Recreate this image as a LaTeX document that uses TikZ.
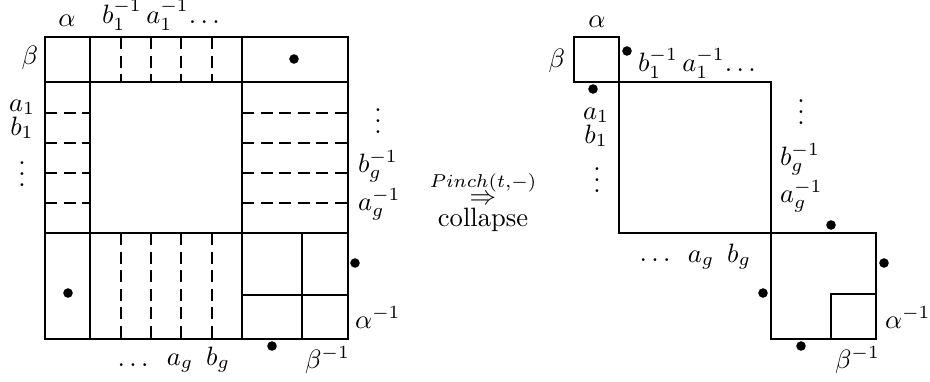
\documentclass[tikz,border=0pt]{standalone}
\usepackage{amsmath}
\newcommand\myvdots{\vbox{\baselineskip4pt\lineskiplimit0pt\hbox{.}\hbox{.}\hbox{.}}}
\begin{document}
\begin{tikzpicture}[x=0.3766pt,y=-0.3766pt,
  edge/.style={line width=0.8pt},
  dsh/.style={line width=0.8pt, dash pattern=on 4.5pt off 2.5pt},
  lbl/.style={inner sep=0pt, outer sep=0pt},
  pt/.style={circle, fill=black, inner sep=0pt, minimum size=3.6pt}]
\useasboundingbox (0,0) rectangle (930,381);

% ---------- left figure ----------
\draw[edge] (45,37) rectangle (348,339);
\draw[edge] (90,37) -- (90,339);
\draw[edge] (242,37) -- (242,339);
\draw[edge] (45,82) -- (348,82);
\draw[edge] (45,233) -- (348,233);
\draw[edge] (302,233) -- (302,339);
\draw[edge] (242,295) -- (348,295);
\foreach \x in {121,151,181,212} {
  \draw[dsh] (\x,37) -- (\x,82);
  \draw[dsh] (\x,233) -- (\x,339);
}
\foreach \y in {113,143,173,203} {
  \draw[dsh] (45,\y) -- (90,\y);
  \draw[dsh] (242,\y) -- (348,\y);
}
\node[pt] (ld1) at (294,59) {};
\node[pt] (ld2) at (68,293) {};
\node[pt] (ld3) at (355,263) {};
\node[pt] (ld4) at (272,346) {};

\node[lbl, anchor=base] (lal) at (67,26.5) {$\alpha$};
\node[lbl, anchor=base west] (ltop) at (102,23.3) {$b_1^{-1}\,a_1^{-1}\!\ldots$};
\node[lbl, anchor=base east] (lbe) at (38,64) {$\beta$};
\node[lbl, anchor=base] (la1) at (22,111) {$a_1$};
\node[lbl, anchor=base] (lb1) at (22,135) {$b_1$};
\node[lbl] (lvd) at (22,174) {\myvdots};
\node[lbl] (rvd) at (378,121) {\myvdots};
\node[lbl, anchor=base west] (lbg) at (358,172) {$b_g^{-1}$};
\node[lbl, anchor=base west] (lag) at (358,210) {$a_g^{-1}$};
\node[lbl, anchor=base west] (lali) at (355,328) {$\alpha^{-1}$};
\node[lbl, anchor=base] (ldots) at (133,366) {$\ldots$};
\node[lbl, anchor=base] (lagb) at (180,365) {$a_g$};
\node[lbl, anchor=base] (lbgb) at (218,365) {$b_g$};
\node[lbl, anchor=base west] (lbei) at (305,368) {$\beta^{-1}$};

% ---------- middle ----------
\node[lbl, anchor=base] (pinch) at (483,204.6) {$\stackrel{Pinch(t,-)}{\Rightarrow}$};
\node[lbl, anchor=base] (coll) at (483,226) {collapse};

% ---------- right figure ----------
\draw[edge] (574,37) rectangle (619,82);
\draw[edge] (619,82) rectangle (771,233);
\draw[edge] (771,233) rectangle (876,339);
\draw[edge] (831,294) rectangle (876,339);
\node[pt] (rd1) at (627,51) {};
\node[pt] (rd2) at (593,89) {};
\node[pt] (rd3) at (831,225) {};
\node[pt] (rd4) at (884,263) {};
\node[pt] (rd5) at (763,293) {};
\node[pt] (rd6) at (801,346) {};

\node[lbl, anchor=base] (ral) at (597,27) {$\alpha$};
\node[lbl, anchor=base east] (rbe) at (565,67) {$\beta$};
\node[lbl, anchor=base west] (rtop) at (638,71.5) {$b_1^{-1}\,a_1^{-1}\!\ldots$};
\node[lbl, anchor=base] (ra1) at (596,119) {$a_1$};
\node[lbl, anchor=base] (rb1) at (596,143) {$b_1$};
\node[lbl] (rlvd) at (597,180) {\myvdots};
\node[lbl] (rrvd) at (801,112) {\myvdots};
\node[lbl, anchor=base west] (rbg) at (780,165) {$b_g^{-1}$};
\node[lbl, anchor=base west] (rag) at (780,202) {$a_g^{-1}$};
\node[lbl, anchor=base] (rdots) at (655,261) {$\ldots$};
\node[lbl, anchor=base] (ragb) at (701,262) {$a_g$};
\node[lbl, anchor=base] (rbgb) at (739,262) {$b_g$};
\node[lbl, anchor=base west] (rali) at (885,328) {$\alpha^{-1}$};
\node[lbl, anchor=base west] (rbei) at (835,368) {$\beta^{-1}$};
\end{tikzpicture}
\end{document}
